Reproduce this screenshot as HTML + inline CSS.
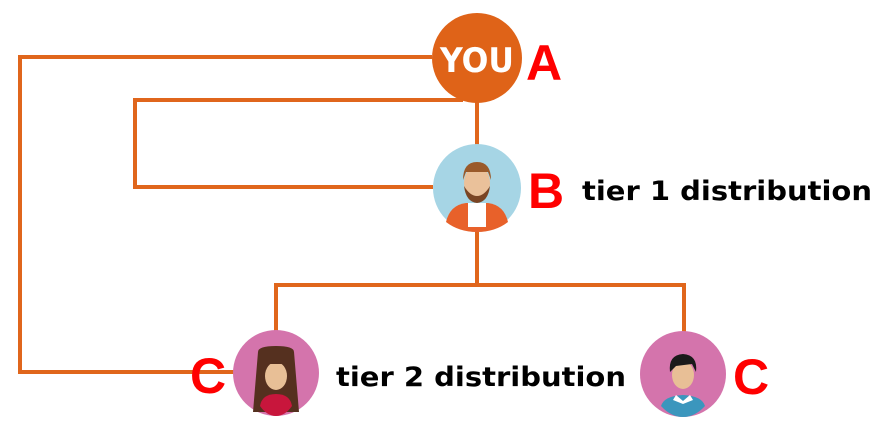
<!DOCTYPE html>
<html><head><meta charset="utf-8"><style>
html,body{margin:0;padding:0;background:#fff;width:889px;height:438px;overflow:hidden}
</style></head><body>
<svg width="889" height="438" viewBox="0 0 889 438" xmlns="http://www.w3.org/2000/svg">
<g stroke="#e0661c" stroke-width="4" fill="none">
<polyline points="432,57 20,57 20,372 235,372"/>
<polyline points="463,100 135,100 135,187 433,187"/>
<line x1="477" y1="100" x2="477" y2="146"/>
<line x1="477" y1="230" x2="477" y2="285"/>
<polyline points="276,332 276,285 684,285 684,332"/>
</g>
<circle cx="477" cy="58" r="45" fill="#df6318"/>
<text x="440" y="72" textLength="74" lengthAdjust="spacingAndGlyphs" font-family="DejaVu Sans,sans-serif" font-weight="bold" font-size="34" fill="#fff">YOU</text>
<circle cx="477" cy="188" r="44" fill="#a6d5e5"/>
<path d="M446,222 Q450,205 466,203 L488,203 Q504,205 508,222 Q495,232 477,232 Q459,232 446,222Z" fill="#e8612a"/>
<rect x="468" y="203" width="18" height="24" fill="#fff"/>
<ellipse cx="477" cy="183" rx="13" ry="17" fill="#eac19a"/>
<path d="M463,180 Q463,162 477,162 Q491,162 491,180 L488,172 L466,172Z" fill="#9a5a2a"/>
<path d="M464,186 Q466,202 477,203 Q488,202 490,186 Q484,196 477,196 Q470,196 464,186Z" fill="#7a4524"/>
<circle cx="276" cy="373" r="43" fill="#d474ac"/>
<path d="M258,352 Q258,346 276,346 Q294,346 294,352 L299,412 L253,412Z" fill="#55301f"/>
<path d="M260,406 Q262,394 276,394 Q290,394 292,406 Q285,416 276,416 Q267,416 260,406Z" fill="#c8163c"/>
<ellipse cx="276" cy="376" rx="11" ry="14" fill="#e8bf96"/>
<rect x="264" y="352" width="24" height="12" fill="#55301f"/>
<circle cx="683" cy="374" r="43" fill="#d474ac"/>
<path d="M661,406 Q664,396 683,395 Q702,396 705,406 Q695,417 683,417 Q671,417 661,406Z" fill="#3b96bd"/>
<path d="M676,395 L683,401 L690,395 L693,400 L683,404 L673,400Z" fill="#fff"/>
<ellipse cx="683" cy="375" rx="11" ry="14" fill="#e8bf96"/>
<path d="M670,372 Q668,355 683,354 Q698,355 696,372 L692,364 L676,366Z" fill="#1a1a1a"/>
<g font-family="Liberation Sans,sans-serif" font-weight="bold">
<text x="526" y="80" font-size="50" fill="#f00">A</text>
<text x="528" y="208" font-size="50" fill="#f00">B</text>
<text x="190" y="393" font-size="50" fill="#f00">C</text>
<text x="733" y="394" font-size="50" fill="#f00">C</text>
</g>
<g font-family="DejaVu Sans,sans-serif" font-weight="bold">
<text x="582" y="200" font-size="27" fill="#000" textLength="290" lengthAdjust="spacingAndGlyphs">tier 1 distribution</text>
<text x="336" y="386" font-size="27" fill="#000" textLength="290" lengthAdjust="spacingAndGlyphs">tier 2 distribution</text>
</g>
</svg>
</body></html>
